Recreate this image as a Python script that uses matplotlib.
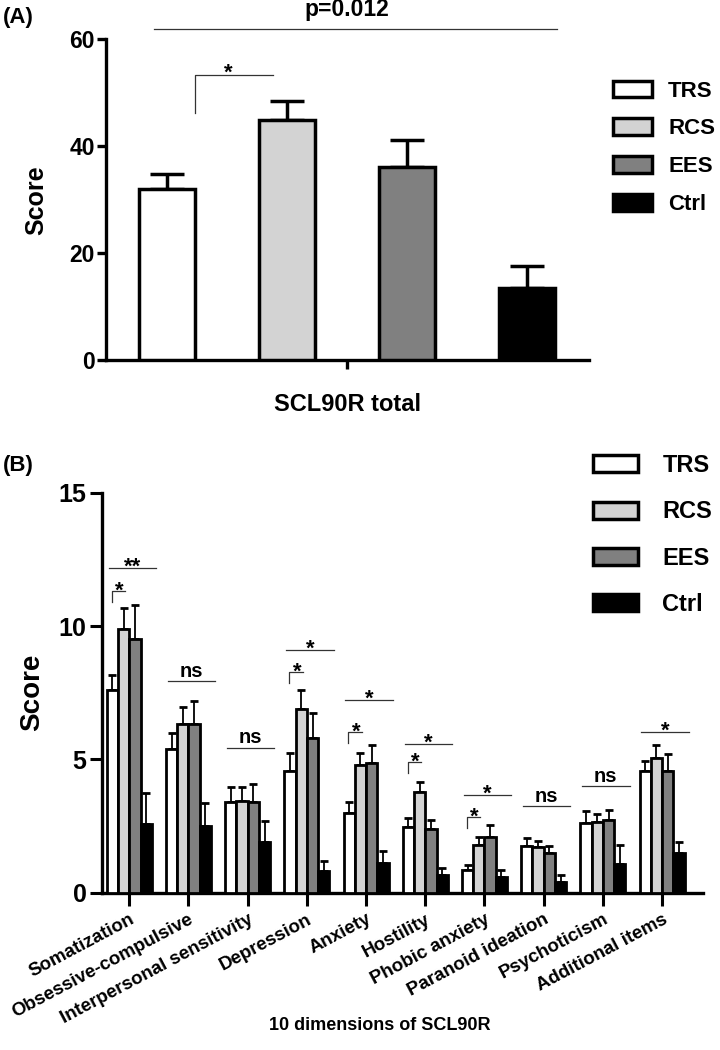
import numpy as np
import matplotlib.pyplot as plt
from matplotlib.patches import Patch

plt.rcParams['font.family'] = ['Liberation Sans', 'DejaVu Sans']
plt.rcParams['font.weight'] = 'bold'

# groups and fills
groups = ['TRS', 'RCS', 'EES', 'Ctrl']
colors = ['white', '#d3d3d3', '#808080', 'black']

# panel A: SCL90R total (mean, upper error)
total_mean = [32.0, 44.9, 36.2, 13.6]
total_err = [2.8, 3.6, 4.9, 4.0]

# panel B: 10 dimensions
dimensions = ['Somatization', 'Obsessive-compulsive', 'Interpersonal sensitivity',
              'Depression', 'Anxiety', 'Hostility', 'Phobic anxiety',
              'Paranoid ideation', 'Psychoticism', 'Additional items']
trs_mean = [7.6, 5.38, 3.41, 4.56, 2.98, 2.48, 0.85, 1.76, 2.62, 4.58]
trs_err = [0.56, 0.62, 0.54, 0.69, 0.43, 0.33, 0.19, 0.30, 0.43, 0.36]
rcs_mean = [9.88, 6.31, 3.44, 6.88, 4.79, 3.76, 1.79, 1.73, 2.65, 5.04]
rcs_err = [0.81, 0.67, 0.51, 0.72, 0.46, 0.38, 0.31, 0.21, 0.32, 0.50]
ees_mean = [9.5, 6.33, 3.4, 5.79, 4.88, 2.38, 2.08, 1.5, 2.72, 4.58]
ees_err = [1.29, 0.87, 0.66, 0.94, 0.66, 0.35, 0.46, 0.25, 0.38, 0.62]
ctrl_mean = [2.56, 2.51, 1.91, 0.81, 1.1, 0.66, 0.6, 0.41, 1.07, 1.48]
ctrl_err = [1.19, 0.87, 0.79, 0.38, 0.45, 0.25, 0.25, 0.25, 0.71, 0.41]

# significance marks in panel B
sig_labels = ['**', 'ns', 'ns', '*', '*', '*', '*', 'ns', 'ns', '*']
sig_line_y = [12.19, 7.94, 5.44, 9.1, 7.23, 5.58, 3.66, 3.25, 4.0, 6.04]
pair_y = [11.33, None, None, 8.29, 6.03, 4.91, 2.85, None, None, None]

W, H = 720, 1050
fig = plt.figure(figsize=(W / 100, H / 100), dpi=100)


def px_axes(l, t, r, b):
    return fig.add_axes([l / W, 1 - b / H, (r - l) / W, (b - t) / H])


def style_axes(ax, lw):
    ax.spines[['top', 'right']].set_visible(False)
    ax.spines['left'].set_linewidth(lw)
    ax.spines['bottom'].set_linewidth(lw)


# ---------------- panel A ----------------
axA = px_axes(106, 39.3, 589, 360.3)
xA = np.arange(len(groups))
axA.bar(xA, total_mean, width=0.47, color=colors, edgecolor='black',
        linewidth=2.5, zorder=3)
axA.errorbar(xA, total_mean, yerr=[np.zeros(len(xA)), total_err], fmt='none',
             ecolor='black', elinewidth=2.5, capsize=12, capthick=2.5, zorder=2)
style_axes(axA, 2.4)
axA.set_xlim(-0.508, 3.517)
axA.set_ylim(0, 60)
axA.set_yticks([0, 20, 40, 60])
axA.set_xticks([1.5])
axA.set_xticklabels([''])
axA.tick_params(length=6.5, width=2.4, labelsize=16.5, pad=1.5)
axA.set_ylabel('Score', fontsize=18, fontweight='bold')
axA.yaxis.set_label_coords(-0.12, 0.5)
axA.text(0.5, -0.158, 'SCL90R total', transform=axA.transAxes, ha='center',
         va='baseline', fontsize=17, fontweight='bold')

axA.plot([-0.11, 3.25], [61.9, 61.9], color='#333333', lw=0.9, clip_on=False)
axA.text(1.5, 64.3, 'p=0.012', ha='center', va='baseline', fontsize=16.5,
         fontweight='bold', clip_on=False)
axA.plot([0.236, 0.236, 0.886], [46.3, 53.3, 53.3], color='#333333', lw=0.9)
axA.text(0.51, 52.6, '*', ha='center', va='baseline', fontsize=16, fontweight='bold')

handlesA = [Patch(facecolor=c, edgecolor='black', linewidth=2.5) for c in colors]
axA.legend(handlesA, groups, loc='upper left', bbox_to_anchor=(613 / W, 1 - 80.5 / H),
           bbox_transform=fig.transFigure, frameon=False, borderpad=0, borderaxespad=0,
           fontsize=16, handlelength=1.76, handleheight=0.77, labelspacing=0.76,
           handletextpad=0.72)

# ---------------- panel B ----------------
axB = px_axes(101.7, 492.7, 703.3, 892.7)
xB = np.arange(len(dimensions))
w = 0.19
series = [(trs_mean, trs_err), (rcs_mean, rcs_err), (ees_mean, ees_err),
          (ctrl_mean, ctrl_err)]
for i, (m, e) in enumerate(series):
    xs = xB + (i - 1.5) * w
    axB.bar(xs, m, width=w, color=colors[i], edgecolor='black', linewidth=2.0, zorder=3)
    axB.errorbar(xs, m, yerr=[np.zeros(len(xs)), e], fmt='none', ecolor='black',
                 elinewidth=1.3, capsize=3, capthick=2.0, zorder=2)
style_axes(axB, 2.4)
axB.set_xlim(-0.466, 9.696)
axB.set_ylim(0, 15)
axB.set_yticks([0, 5, 10, 15])
axB.set_xticks(xB)
axB.set_xticklabels(dimensions, rotation=28, ha='right', rotation_mode='anchor',
                    fontsize=13.5, fontweight='bold')
axB.tick_params(axis='both', length=9, width=2.2)
axB.tick_params(axis='y', labelsize=18, pad=2)
axB.tick_params(axis='x', pad=4)
axB.set_ylabel('Score', fontsize=20, fontweight='bold')
axB.yaxis.set_label_coords(-0.094, 0.5)
axB.text(0.4626, -0.343, '10 dimensions of SCL90R', transform=axB.transAxes,
         ha='center', va='baseline', fontsize=13, fontweight='bold')

for g, (lab, ly, py) in enumerate(zip(sig_labels, sig_line_y, pair_y)):
    axB.plot([g - 0.35, g + 0.45], [ly, ly], color='#333333', lw=0.9)
    if lab == 'ns':
        axB.text(g + 0.05, ly + 0.16, lab, ha='center', va='baseline', fontsize=14.5,
                 fontweight='bold')
    else:
        axB.text(g + 0.05, ly - 0.18, lab, ha='center', va='baseline', fontsize=16,
                 fontweight='bold')
    if py is not None:
        axB.plot([g - 0.30, g - 0.30, g - 0.07], [py - 0.43, py, py],
                 color='#333333', lw=0.9)
        axB.text(g - 0.17, py - 0.22, '*', ha='center', va='baseline', fontsize=16,
                 fontweight='bold')

handlesB = [Patch(facecolor=c, edgecolor='black', linewidth=2.5) for c in colors]
axB.legend(handlesB, groups, loc='upper left', bbox_to_anchor=(593.3 / W, 1 - 454 / H),
           bbox_transform=fig.transFigure, frameon=False, borderpad=0, borderaxespad=0,
           fontsize=17, handlelength=1.9, handleheight=0.72, labelspacing=0.99,
           handletextpad=1.03)

fig.text(3 / W, 1 - 17 / H, '(A)', ha='left', va='center', fontsize=16, fontweight='bold')
fig.text(3 / W, 1 - 465 / H, '(B)', ha='left', va='center', fontsize=16, fontweight='bold')

fig.savefig('out.png', dpi=100)
